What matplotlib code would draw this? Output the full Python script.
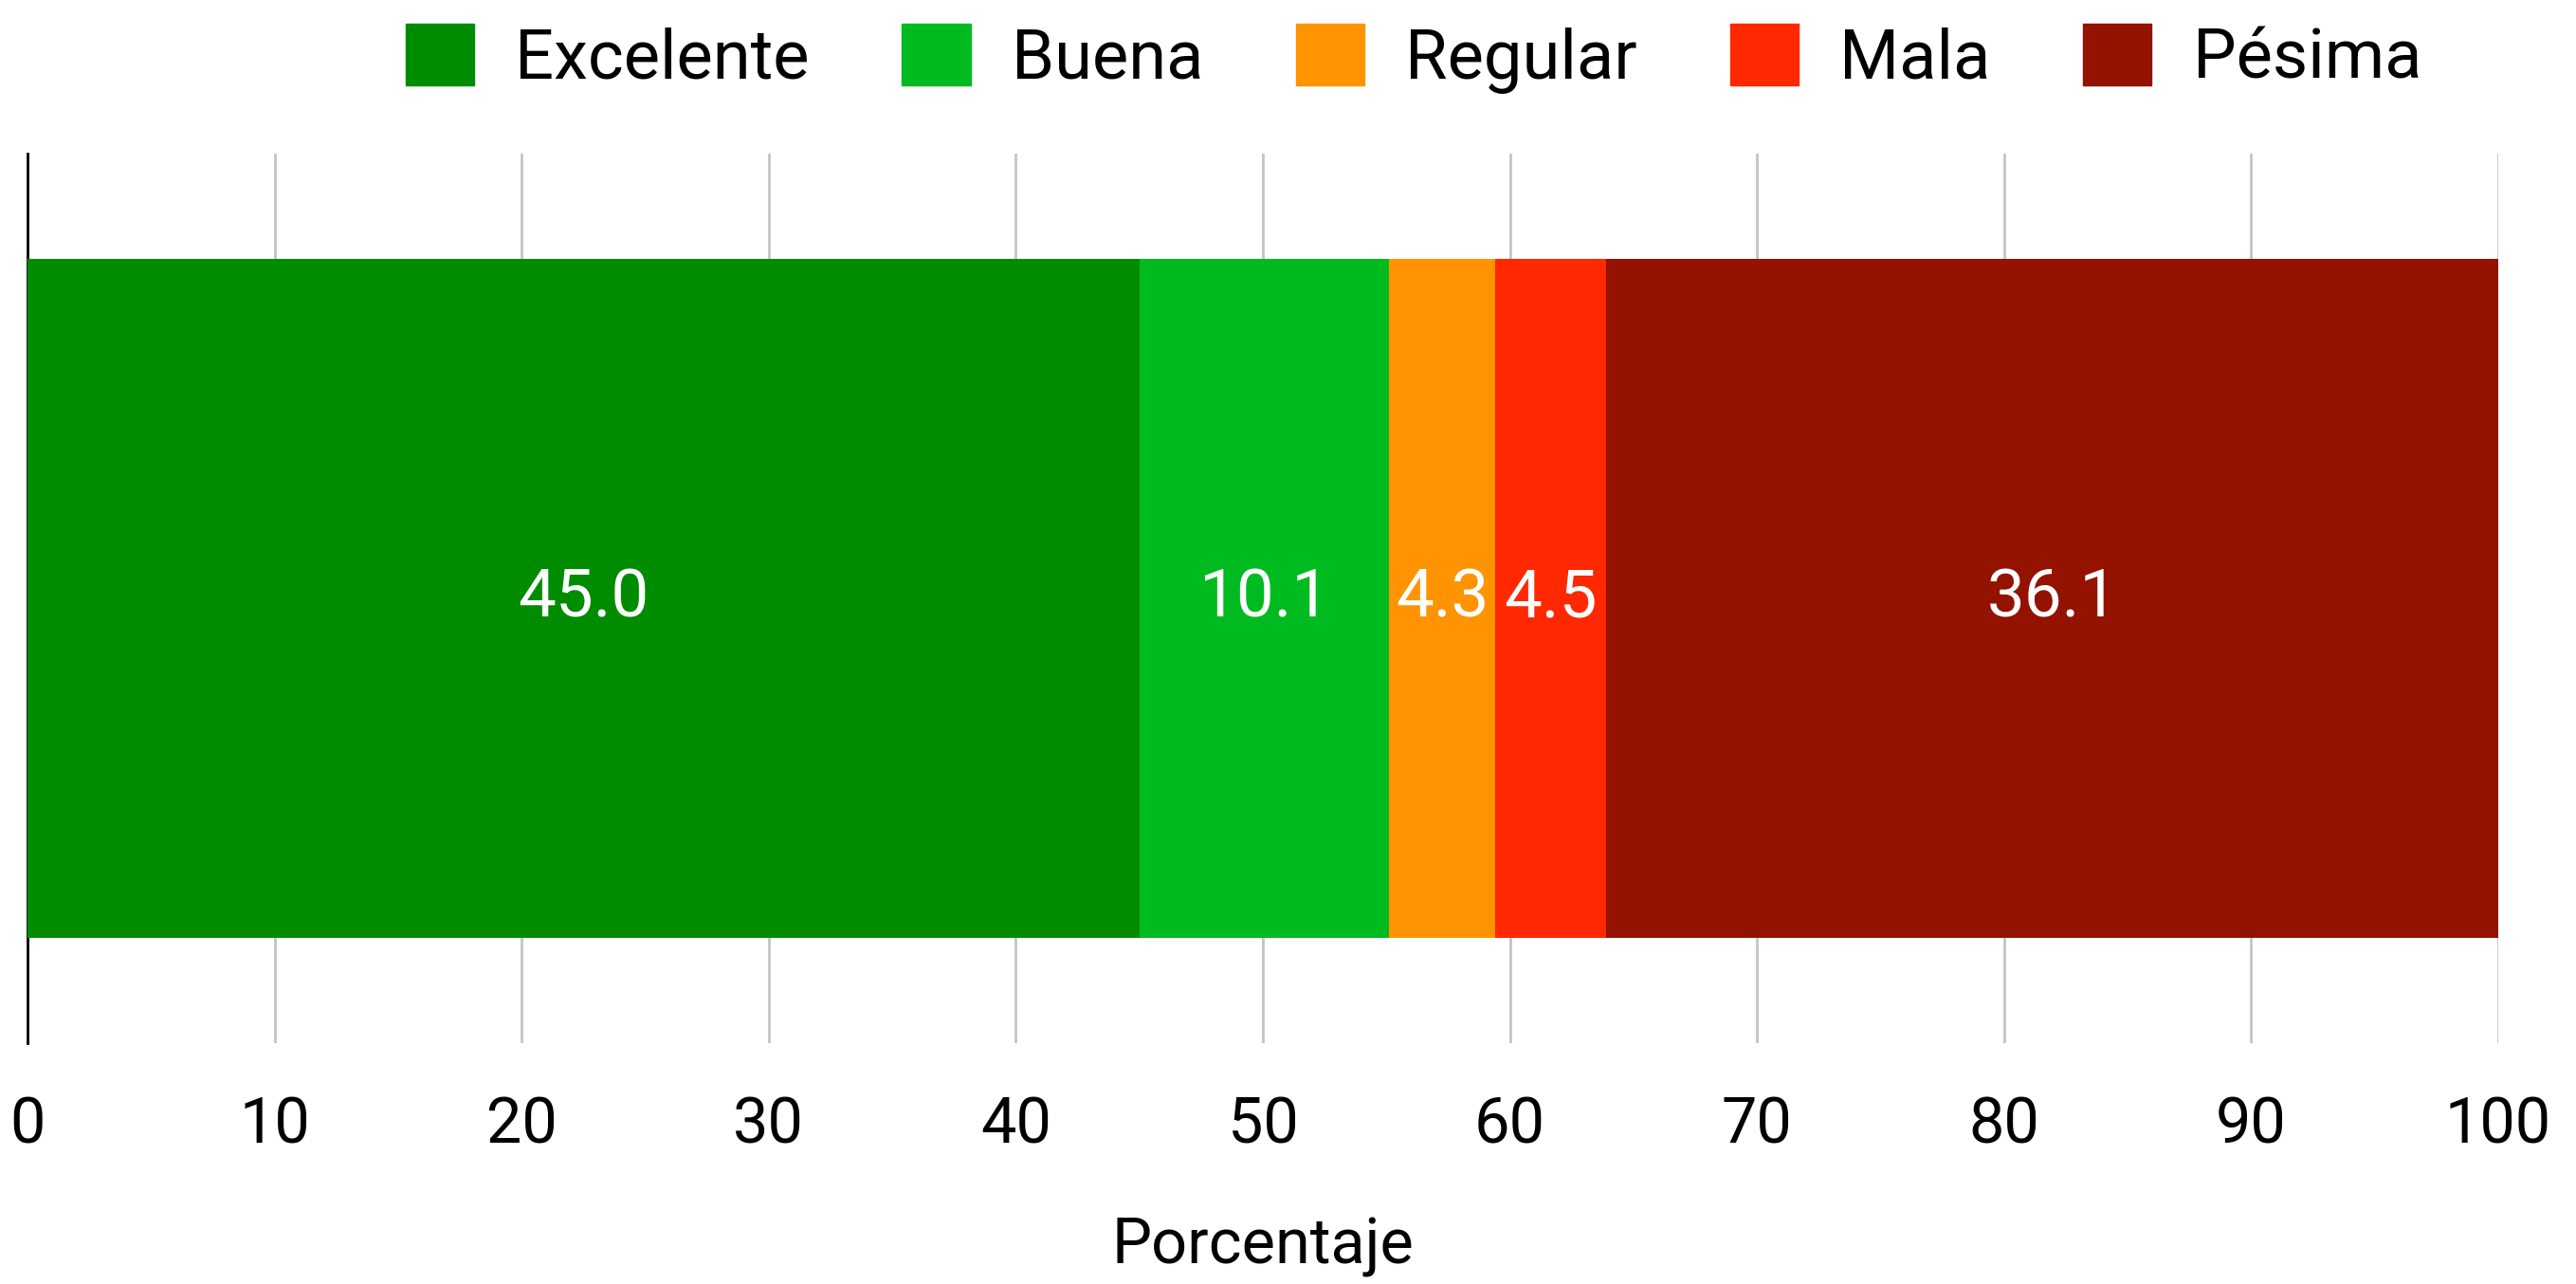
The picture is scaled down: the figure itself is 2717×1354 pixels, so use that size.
import matplotlib
matplotlib.use('Agg')
import matplotlib.pyplot as plt
import matplotlib.patches as mpatches

plt.rcParams['font.family'] = ['Roboto', 'DejaVu Sans']

categorias = ['Excelente', 'Buena', 'Regular', 'Mala', 'Pésima']
valores = [45.0, 10.1, 4.3, 4.5, 36.1]
colores = ['#008c00', '#00bb1f', '#ff9400', '#ff2800', '#931200']
ticks_x = [0, 10, 20, 30, 40, 50, 60, 70, 80, 90, 100]

W, H = 2717, 1354
fig = plt.figure(figsize=(W / 100, H / 100), dpi=100)
ax = fig.add_axes([29 / W, 1 - 1100 / H, 2606 / W, 938 / H])

izq = 0
for cat, v, c in zip(categorias, valores, colores):
    ax.barh(0, v, left=izq, height=0.764, color=c, label=cat, zorder=3)
    ax.text(izq + v / 2, 0, f'{v:.1f}', ha='center', va='center',
            color='white', fontsize=51, zorder=4)
    izq += v

ax.set_xlim(0, 100)
ax.set_ylim(-0.5, 0.5)
ax.set_xticks(ticks_x)
ax.set_xticklabels([str(t) for t in ticks_x], fontsize=48)
ax.set_yticks([])
ax.tick_params(axis='x', length=0, pad=40)
ax.grid(axis='x', color='#c4c4c4', linewidth=2, zorder=0)
for s in ['top', 'right', 'bottom']:
    ax.spines[s].set_visible(False)
ax.spines['left'].set_linewidth(2)
ax.spines['left'].set_color('black')
ax.set_xlabel('Porcentaje', fontsize=48, labelpad=46)

handles = [mpatches.Patch(color=c, label=cat) for cat, c in zip(categorias, colores)]
fig.legend(handles=handles, loc='center', bbox_to_anchor=(1491 / W, 1 - 62 / H),
           ncol=5, frameon=False, fontsize=52, handlelength=1.0, handleheight=1.0,
           handletextpad=0.6, columnspacing=1.35, borderpad=0)

fig.savefig('out.png', dpi=100, facecolor='white')
